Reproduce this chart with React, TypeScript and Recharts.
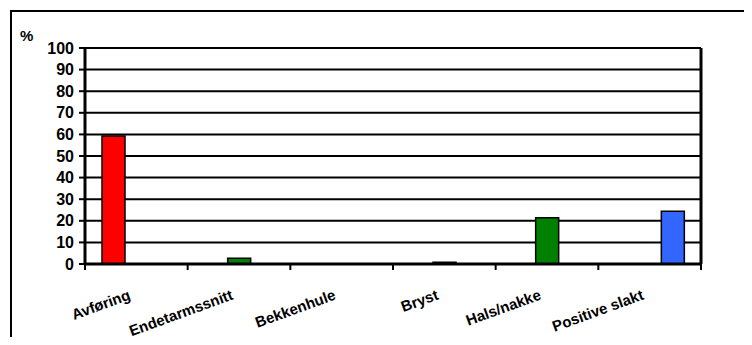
import React from 'react';
import { BarChart, Bar, XAxis, YAxis, CartesianGrid } from 'recharts';

const kategorier = ['Avføring', 'Endetarmssnitt', 'Bekkenhule', 'Bryst', 'Hals/nakke', 'Positive slakt'];
const avforingVerdier = [59.3, null, null, null, null, null];
const organVerdier = [null, 2.7, 0, 0.8, 21.4, null];
const slaktVerdier = [null, null, null, null, null, 24.4];
const yTicks = [0, 10, 20, 30, 40, 50, 60, 70, 80, 90, 100];

const data = kategorier.map((navn, i) => ({
  navn,
  avforing: avforingVerdier[i],
  organ: organVerdier[i],
  slakt: slaktVerdier[i],
}));

const FONT = '"Liberation Sans", Arial, sans-serif';

// etikett skrått under kategorien, pluss skillestrek på venstre kant (og høyre for siste)
const KategoriTick = ({ x, y, payload, index, width, visibleTicksCount }: any) => {
  const band = width / visibleTicksCount;
  const ax = x - 5;
  const ay = y + 27;
  const siste = index === visibleTicksCount - 1;
  return (
    <g>
      <line x1={x - band / 2} y1={y - 8} x2={x - band / 2} y2={y - 2} stroke="#000" strokeWidth={2} />
      {siste && <line x1={x + band / 2} y1={y - 8} x2={x + band / 2} y2={y - 2} stroke="#000" strokeWidth={2} />}
      <text
        x={ax}
        y={ay}
        textAnchor="end"
        transform={`rotate(-20, ${ax}, ${ay})`}
        fontFamily={FONT}
        fontWeight="bold"
        fontSize={15}
        fill="#000"
      >
        {payload.value}
      </text>
    </g>
  );
};

export default function App() {
  return (
    <div style={{ position: 'relative', width: 752, height: 345, margin: -8, overflow: 'hidden', background: '#fff' }}>
      <div
        style={{
          position: 'absolute',
          left: 10,
          top: 10,
          width: 800,
          height: 400,
          border: '2px solid #000',
        }}
      />
      <div
        style={{
          position: 'absolute',
          left: 20,
          top: 27,
          fontFamily: FONT,
          fontWeight: 'bold',
          fontSize: 15,
        }}
      >
        %
      </div>
      <div style={{ position: 'absolute', left: 0, top: 0 }}>
        <BarChart
          width={752}
          height={345}
          data={data}
          margin={{ top: 48, right: 50, bottom: 0, left: 0 }}
          barGap={0}
          barSize={23}
        >
          <CartesianGrid yAxisId="v" horizontal vertical={false} stroke="#000" strokeWidth={2} />
          <XAxis
            xAxisId="kat"
            dataKey="navn"
            height={81}
            interval={0}
            tickSize={8}
            tickMargin={0}
            tickLine={false}
            axisLine={{ stroke: '#000', strokeWidth: 3 }}
            tick={<KategoriTick />}
          />
          <YAxis
            yAxisId="v"
            width={85}
            domain={[0, 100]}
            ticks={yTicks}
            interval={0}
            tickSize={6}
            tickMargin={5}
            axisLine={{ stroke: '#000', strokeWidth: 3 }}
            tickLine={{ stroke: '#000', strokeWidth: 2 }}
            tick={{ fontFamily: FONT, fontWeight: 'bold', fontSize: 16, fill: '#000' }}
          />
          <YAxis
            yAxisId="h"
            orientation="right"
            width={1}
            domain={[0, 100]}
            tick={false}
            tickLine={false}
            axisLine={{ stroke: '#000', strokeWidth: 3 }}
          />
          <Bar xAxisId="kat" yAxisId="v" dataKey="avforing" fill="#ff0000" stroke="#000" strokeWidth={1.5} isAnimationActive={false} />
          <Bar xAxisId="kat" yAxisId="v" dataKey="organ" fill="#008000" stroke="#000" strokeWidth={1.5} isAnimationActive={false} />
          <Bar xAxisId="kat" yAxisId="v" dataKey="slakt" fill="#3366ff" stroke="#000" strokeWidth={1.5} isAnimationActive={false} />
        </BarChart>
      </div>
    </div>
  );
}
